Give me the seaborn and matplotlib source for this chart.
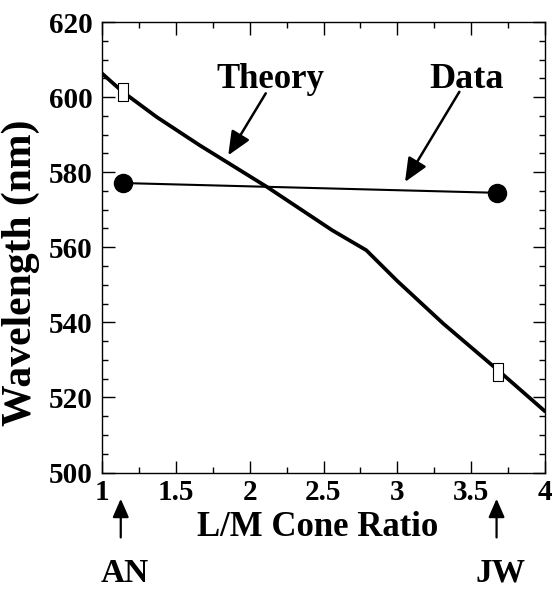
import pandas as pd
import matplotlib.pyplot as plt
import seaborn as sns
from matplotlib.ticker import MultipleLocator

# Theory curve
theory_x = [1.0, 1.14, 1.37, 1.66, 2.12, 2.56, 2.79, 3.0, 3.31, 3.68, 4.0]
theory_y = [606.3, 601.4, 594.7, 587.2, 576.0, 564.5, 559.2, 551.0, 539.7, 527.3, 516.3]

# Theory predictions for the two subjects (open squares)
pred_x = [1.14, 3.68]
pred_y = [601.4, 526.9]

# Measured data (filled circles)
data_x = [1.144, 3.675]
data_y = [577.1, 574.5]

subjects = ["AN", "JW"]
subject_x = [1.127, 3.672]

sns.set_style("ticks")
plt.rcParams['font.family'] = ['Liberation Serif', 'DejaVu Serif']
plt.rcParams['font.weight'] = 'bold'
plt.rcParams['text.color'] = 'black'
plt.rcParams['axes.labelcolor'] = 'black'

fig = plt.figure(figsize=(5.52, 5.91), dpi=100)
ax = fig.add_axes([102 / 552, 1 - 472.5 / 591, 443 / 552, 450.5 / 591])

theory = pd.DataFrame({'x': theory_x, 'y': theory_y})
data = pd.DataFrame({'x': data_x, 'y': data_y})
pred = pd.DataFrame({'x': pred_x, 'y': pred_y})

sns.lineplot(data=theory, x='x', y='y', color='black', linewidth=2.7, ax=ax, zorder=2)
sns.lineplot(data=data, x='x', y='y', color='black', linewidth=1.5, ax=ax, zorder=2)
ax.plot(data['x'], data['y'], 'o', color='black', markersize=13, zorder=3)

rect = [(-0.28, -0.5), (0.28, -0.5), (0.28, 0.5), (-0.28, 0.5), (-0.28, -0.5)]
ax.plot(pred['x'], pred['y'], linestyle='none', marker=rect, markersize=13,
        markerfacecolor='white', markeredgecolor='black', markeredgewidth=0.8, zorder=4)

ax.set_xlim(1, 4)
ax.set_ylim(500, 620)
ax.xaxis.set_major_locator(MultipleLocator(0.5))
ax.xaxis.set_minor_locator(MultipleLocator(0.25))
ax.yaxis.set_major_locator(MultipleLocator(20))
ax.yaxis.set_minor_locator(MultipleLocator(5))
ax.xaxis.set_major_formatter(plt.FuncFormatter(lambda v, p: f"{v:g}"))
ax.tick_params(which='both', direction='in', top=True, right=True, width=1, colors='black')
ax.tick_params(which='major', length=9, labelsize=21)
ax.tick_params(axis='x', which='major', pad=5)
ax.tick_params(axis='y', which='major', pad=7)
ax.tick_params(which='minor', length=4.5)
for s in ax.spines.values():
    s.set_linewidth(1.0)
    s.set_color('black')

ax.set_xlabel('L/M Cone Ratio', fontsize=25, fontweight='bold')
ax.set_ylabel('Wavelength (nm)', fontsize=30, fontweight='bold')
ax.xaxis.set_label_coords(0.486, -0.085)
ax.yaxis.set_label_coords(-0.14, 0.443)

# annotations
head = '-|>,head_length=0.8,head_width=0.35'
ax.text(2.144, 602.5, 'Theory', fontsize=25, fontweight='bold', ha='center', va='baseline')
ax.annotate('', xy=(1.855, 584.5), xytext=(2.109, 601.0),
            arrowprops=dict(arrowstyle=head, color='black', lw=1.8, mutation_scale=18,
                            shrinkA=0, shrinkB=0))
ax.text(3.468, 602.5, 'Data', fontsize=26, fontweight='bold', ha='center', va='baseline')
ax.annotate('', xy=(3.052, 577.4), xytext=(3.420, 601.4),
            arrowprops=dict(arrowstyle=head, color='black', lw=1.8, mutation_scale=18,
                            shrinkA=0, shrinkB=0))

# subject markers below the axis
for sx, name in zip(subject_x, subjects):
    ax.annotate('', xy=(sx, 493.0), xytext=(sx, 482.7),
                arrowprops=dict(arrowstyle=head, color='black', lw=1.6, mutation_scale=14,
                                shrinkA=0, shrinkB=0),
                annotation_clip=False)
    ax.text(sx + 0.025, 469.0, name, fontsize=24, fontweight='bold', ha='center', va='bottom',
            clip_on=False)

fig.savefig('out.png', dpi=100)
